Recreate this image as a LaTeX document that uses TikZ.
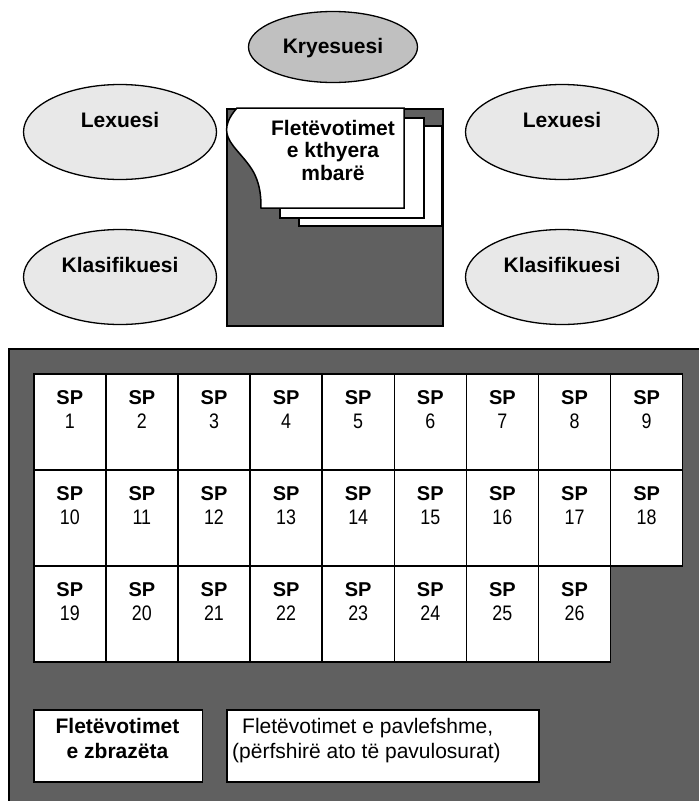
\documentclass[tikz,border=0pt]{standalone}
\usepackage{fontspec}
\setmainfont{Liberation Sans}
\newfontfamily\narrowfont[FakeStretch=0.85]{Liberation Sans}
\usetikzlibrary{shapes.geometric}
\definecolor{darkfill}{HTML}{606060}
\definecolor{kgray}{HTML}{C0C0C0}
\definecolor{lgray}{HTML}{E8E8E8}
\tikzset{
  role/.style={draw, ellipse, line width=1.3pt, inner sep=0pt, minimum width=193pt, minimum height=95pt},
  roletext/.style={anchor=base, font=\bfseries\fontsize{21}{24}\selectfont, inner sep=0pt},
  paper/.style={draw, fill=white, line width=1.5pt, anchor=north west, inner sep=0pt},
  cell/.style={draw, fill=white, line width=1.5pt, anchor=north west, inner sep=0pt, minimum width=72.1pt, minimum height=96pt},
  celltext/.style={anchor=base, align=center, inner sep=0pt, font=\fontsize{20}{24}\selectfont},
  pilebox/.style={draw, fill=white, line width=1.5pt, anchor=north west, inner sep=0pt},
}
\begin{document}
\begin{tikzpicture}[x=1pt,y=-1pt]
\useasboundingbox (0,0) rectangle (699,801);
\clip (0,0) rectangle (699,801);
% top ellipses
\node[role, fill=kgray, minimum width=169pt, minimum height=71pt] (chair) at (333,47) {};
\node[roletext] (chairt) at (333,53) {Kryesuesi};
\node[role, fill=lgray] (readL) at (120,132) {};
\node[roletext] (readLt) at (120,127) {Lexuesi};
\node[role, fill=lgray] (readR) at (562,132) {};
\node[roletext] (readRt) at (562,127) {Lexuesi};
\node[role, fill=lgray] (sortL) at (120,277) {};
\node[roletext] (sortLt) at (120,272) {Klasifikuesi};
\node[role, fill=lgray] (sortR) at (562,277) {};
\node[roletext] (sortRt) at (562,272) {Klasifikuesi};
% central tray
\node[draw, fill=darkfill, line width=1.5pt, anchor=north west, inner sep=0pt, minimum width=216pt, minimum height=217pt] (tray) at (226,108) {};
\node[paper, minimum width=143pt, minimum height=100pt] (paper3) at (298,125) {};
\node[paper, minimum width=144pt, minimum height=100pt] (paper2) at (279,117) {};
\draw[fill=white, line width=1.5pt] (404,108) -- (237,108)
  .. controls (229,117) and (224,127) .. (228,137)
  .. controls (232,148) and (248,160) .. (255,175)
  .. controls (260,186) and (261,196) .. (261,208) -- (404,208) -- cycle;
\node[anchor=base, align=center, inner sep=0pt, font=\bfseries\fontsize{21}{22.5}\selectfont] (traytext) at (333,180) {Fletëvotimet\\e kthyera\\mbarë};
% big frame
\draw[fill=darkfill, line width=1.5pt] (9,349) rectangle (712,814);
\coordinate (frame) at (9,349);
\foreach \i in {1,...,26}{
  \pgfmathtruncatemacro\c{mod(\i-1,9)}
  \pgfmathtruncatemacro\r{(\i-1)/9}
  \node[cell] (sp\i) at ({33+72.1*\c},{373+96*\r}) {};
  \node[celltext] (spt\i) at ([yshift=-55pt]sp\i.north) {{\bfseries SP}\\{\narrowfont\fontsize{21}{24}\selectfont \i}};
}
% bottom piles
\node[pilebox, minimum width=168.5pt, minimum height=72pt] (blank) at (33,709) {};
\node[anchor=base, align=center, inner sep=0pt, font=\bfseries\fontsize{21}{25}\selectfont] (blankt) at (117.5,758) {Fletëvotimet\\e zbrazëta};
\node[pilebox, minimum width=312pt, minimum height=72pt] (invalid) at (226,709) {};
\node[anchor=base west, align=left, inner sep=0pt, font=\fontsize{21}{25}\selectfont] (invalidt) at (232,758) {\hspace*{10pt}Fletëvotimet e pavlefshme,\\(përfshirë ato të pavulosurat)};
\end{tikzpicture}
\end{document}
